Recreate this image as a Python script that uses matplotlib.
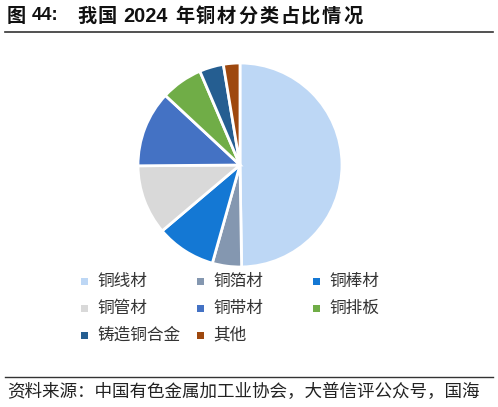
import matplotlib
matplotlib.use("Agg")
import matplotlib.pyplot as plt
from matplotlib.patches import Rectangle
from matplotlib.lines import Line2D

plt.rcParams['font.family'] = ['Noto Sans CJK SC', 'DejaVu Sans']

# 数据
labels = ["铜线材", "铜箔材", "铜棒材", "铜管材", "铜带材", "铜排板", "铸造铜合金", "其他"]
shares = [49.5, 4.6, 9.4, 11.0, 12.0, 6.6, 3.8, 2.6]
colors = ["#BDD7F5", "#8497B0", "#1478D4", "#D9D9D9", "#4472C4", "#70AD47", "#255E91", "#9E480E"]

# 标题分段（文字, 左端 x 像素, 字距）
title_parts = [("图", 7, 20), ("44:", 32, 0), ("我国", 77, 20.5), ("2024", 123, 0),
               ("年铜材分类占比情况", 175, 21)]

W, H = 498, 407
fig = plt.figure(figsize=(W / 100, H / 100), dpi=100)

# 饼图
cx, cy, r = 240, 165, 102
ax = fig.add_axes([(cx - r) / W, 1 - (cy + r) / H, 2 * r / W, 2 * r / H])
ax.pie(shares, colors=colors, startangle=90, counterclock=False,
       wedgeprops=dict(edgecolor="white", linewidth=2))
ax.set_xlim(-1, 1)
ax.set_ylim(-1, 1)
ax.axis("off")

# 标题
ty = 1 - 16 / H
for txt, x, pitch in title_parts:
    if txt[0].isdigit():
        fs = 13.2 if txt == "44:" else 14.3
        fig.text(x / W, ty, txt, fontsize=fs, family=['Liberation Sans', 'DejaVu Sans'],
                 fontweight="bold", va="center", ha="left", color="#111111")
    else:
        for k, ch in enumerate(txt):
            fig.text((x + k * pitch) / W, ty, ch, fontsize=13.8,
                     fontweight="bold", va="center", ha="left", color="#111111")
fig.add_artist(Line2D([5 / W, 493 / W], [1 - 32 / H, 1 - 32 / H], color="#333333", lw=1.2))

# 图例
col_x = [84, 200, 316]
row_y = [281, 308, 335]
for i, (lab, c) in enumerate(zip(labels, colors)):
    x = col_x[i % 3]
    y = row_y[i // 3]
    s = 7
    fig.add_artist(Rectangle(((x - s / 2) / W, 1 - (y + s / 2) / H), s / W, s / H,
                             facecolor=c, edgecolor="none", transform=fig.transFigure))
    fig.text((x + 13) / W, 1 - y / H, lab, fontsize=12, va="center", ha="left", color="#333333")

# 资料来源
fig.add_artist(Line2D([5 / W, 493 / W], [1 - 377 / H, 1 - 377 / H], color="#333333", lw=1.0))
fig.text(7 / W, 1 - 392 / H, "资料来源：中国有色金属加工业协会，大普信评公众号，国海",
         fontsize=12.65, va="center", ha="left", color="#222222")

fig.savefig("out.png", dpi=100)
